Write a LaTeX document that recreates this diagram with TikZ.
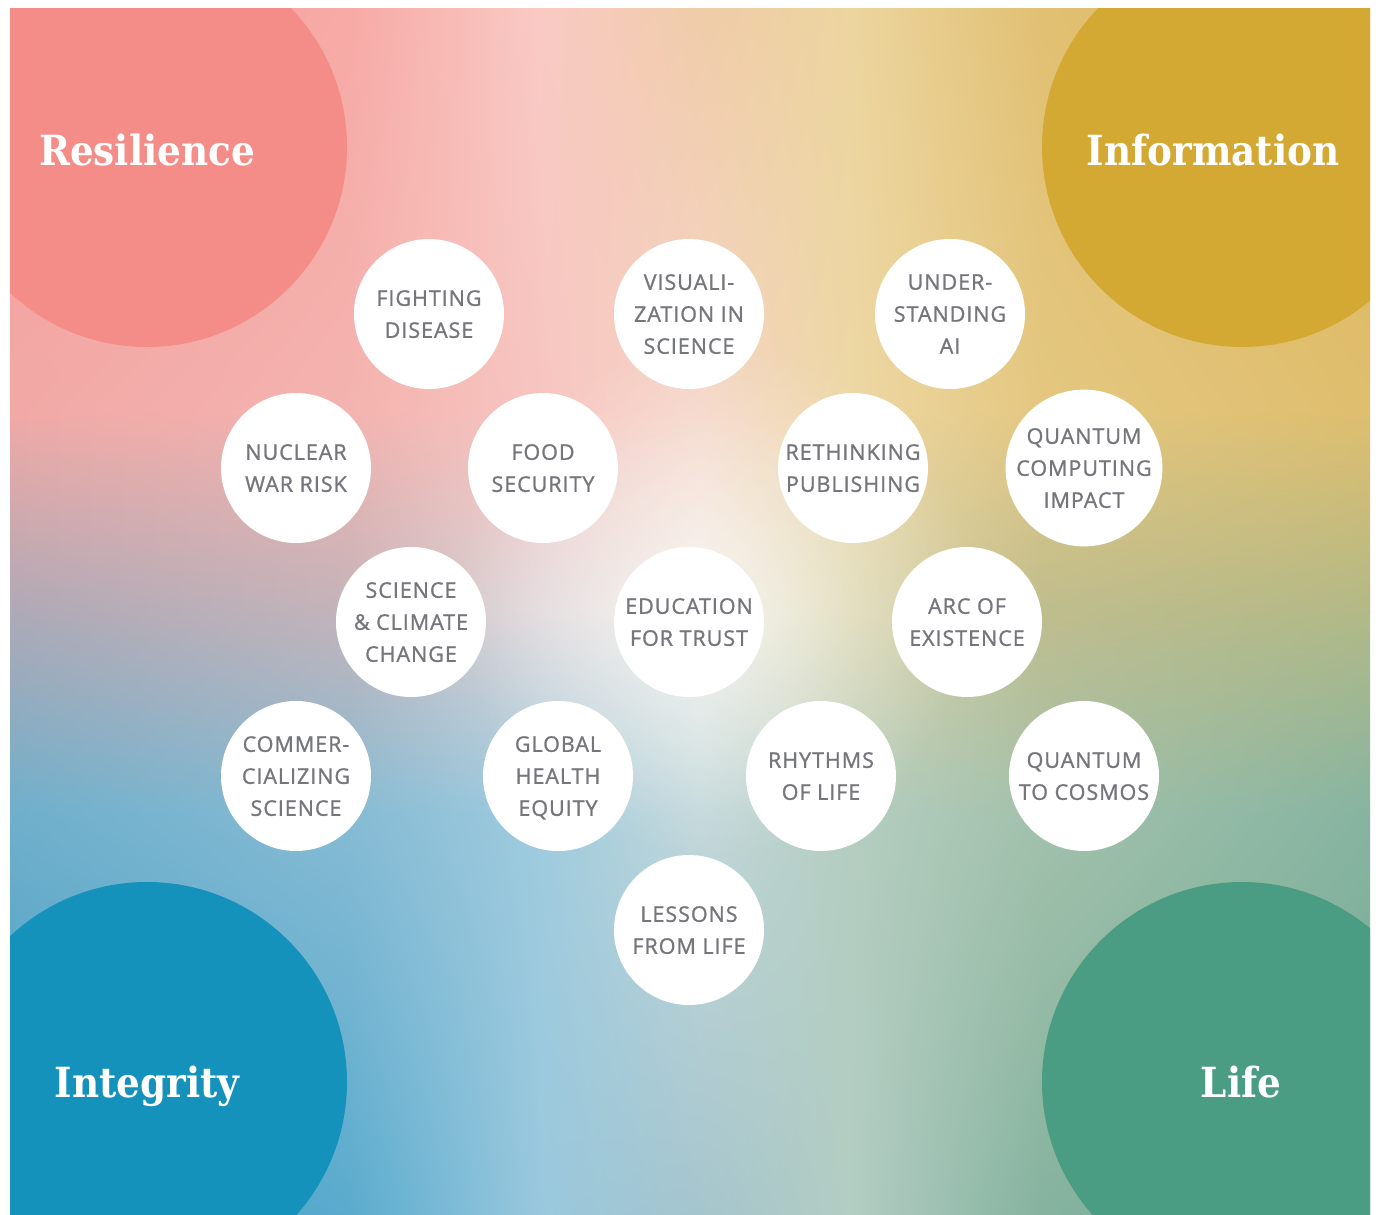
\documentclass[tikz,border=0pt]{standalone}
\usepackage{fontspec}
\usetikzlibrary{shadings,fadings}
\newfontfamily\bubblefont[LetterSpace=4.5,FakeBold=1.1]{Open Sans}
\newfontfamily\titlefont{DejaVu Serif Condensed}
% background grid colours: columns a..g, rows 0..4
\definecolor{a0}{HTML}{F49D98}\definecolor{b0}{HTML}{F7AAA6}\definecolor{c0}{HTML}{F9CAC5}\definecolor{d0}{HTML}{F0CCA8}\definecolor{e0}{HTML}{ECD59F}\definecolor{f0}{HTML}{E1C073}\definecolor{g0}{HTML}{DDB659}
\definecolor{a1}{HTML}{F2A9A6}\definecolor{b1}{HTML}{F4B3AF}\definecolor{c1}{HTML}{F7C5C0}\definecolor{d1}{HTML}{F5D5C8}\definecolor{e1}{HTML}{EDD7A4}\definecolor{f1}{HTML}{E4C780}\definecolor{g1}{HTML}{DFBE6E}
\definecolor{a2}{HTML}{AEA9B6}\definecolor{b2}{HTML}{C3B4BA}\definecolor{c2}{HTML}{E0D8DA}\definecolor{d2}{HTML}{F1EFE8}\definecolor{e2}{HTML}{DCD6B0}\definecolor{f2}{HTML}{BFBD8E}\definecolor{g2}{HTML}{B2B987}
\definecolor{a3}{HTML}{6FAFCB}\definecolor{b3}{HTML}{86BBD4}\definecolor{c3}{HTML}{9FCBDE}\definecolor{d3}{HTML}{C2D7DA}\definecolor{e3}{HTML}{B4CDC0}\definecolor{f3}{HTML}{A2C1AB}\definecolor{g3}{HTML}{86B4A1}
\definecolor{a4}{HTML}{3E9FC6}\definecolor{b4}{HTML}{5AABCE}\definecolor{c4}{HTML}{99C8DD}\definecolor{d4}{HTML}{A5C5CD}\definecolor{e4}{HTML}{B3CDC3}\definecolor{f4}{HTML}{85B39F}\definecolor{g4}{HTML}{72A993}
\definecolor{resil}{HTML}{F48C87}
\definecolor{infor}{HTML}{D4A933}
\definecolor{integ}{HTML}{1592BB}
\definecolor{lifec}{HTML}{4A9C82}
\definecolor{textgray}{HTML}{75767B}
\pgfdeclareradialshading{glowsh}{\pgfpointorigin}{color(0bp)=(transparent!55); color(12bp)=(transparent!75); color(25bp)=(transparent!100); color(50bp)=(transparent!100)}
\pgfdeclarefading{glowfade}{\pgfuseshading{glowsh}}
% #1,#2 = x range, #3,#4 = y range, #5,#6 = column letters, #7,#8 = row digits
\newcommand\bgcell[8]{\shade[upper left=#5#7, upper right=#6#7, lower left=#5#8, lower right=#6#8] (#1-0.6,#3-0.6) rectangle (#2+0.6,#4+0.6);}
\newcommand\bgrow[4]{%
  \bgcell{10}{350}{#1}{#2}{a}{b}{#3}{#4}
  \bgcell{350}{540}{#1}{#2}{b}{c}{#3}{#4}
  \bgcell{540}{700}{#1}{#2}{c}{d}{#3}{#4}
  \bgcell{700}{850}{#1}{#2}{d}{e}{#3}{#4}
  \bgcell{850}{1040}{#1}{#2}{e}{f}{#3}{#4}
  \bgcell{1040}{1370}{#1}{#2}{f}{g}{#3}{#4}}
\tikzset{
  bubble/.style={circle, fill=white, minimum size=150pt, inner sep=0pt, align=center,
    font=\bubblefont\fontsize{21.5}{32}\selectfont, text=textgray, text depth=0pt},
  title/.style={font=\titlefont\bfseries\fontsize{41.5}{50}\selectfont, text=white, anchor=base, inner sep=0pt}
}
\begin{document}
\begin{tikzpicture}[x=1pt,y=-1pt]
\useasboundingbox (0,0) rectangle (1376,1215);
\begin{scope}
\clip (10,9) rectangle (1370,1215);
\bgrow{9}{411}{0}{1}
\bgrow{411}{612}{1}{2}
\bgrow{612}{813}{2}{3}
\bgrow{813}{1215}{3}{4}
\fill[white, path fading=glowfade] (715,600) circle (260);
\fill[resil] (147,147) circle (200);
\fill[infor] (1242,147) circle (200);
\fill[integ] (147,1082) circle (200);
\fill[lifec] (1242,1082) circle (200);
\end{scope}
\node[title] (tres) at (147,165) {Resilience};
\node[title] (tinf) at (1213,165) {Information};
\node[title] (tint) at (147,1097) {Integrity};
\node[title] (tlif) at (1241,1097) {Life};
\node[bubble] (b1) at (429,314) {FIGHTING\\DISEASE};
\node[bubble] (b2) at (689,314) {VISUALI-\\ZATION IN\\SCIENCE};
\node[bubble] (b3) at (950,314) {UNDER-\\STANDING\\AI};
\node[bubble] (b4) at (296,468) {NUCLEAR\\WAR RISK};
\node[bubble] (b5) at (543,468) {FOOD\\SECURITY};
\node[bubble] (b6) at (853,468) {RETHINKING\\PUBLISHING};
\node[bubble] (b7) at (1084,468) {QUANTUM\\COMPUTING\\IMPACT};
\node[bubble] (b8) at (411,622) {SCIENCE\\\&~CLIMATE\\CHANGE};
\node[bubble] (b9) at (689,622) {EDUCATION\\FOR TRUST};
\node[bubble] (b10) at (967,622) {ARC OF\\EXISTENCE};
\node[bubble] (b11) at (296,776) {COMMER-\\CIALIZING\\SCIENCE};
\node[bubble] (b12) at (558,776) {GLOBAL\\HEALTH\\EQUITY};
\node[bubble] (b13) at (821,776) {RHYTHMS\\OF LIFE};
\node[bubble] (b14) at (1084,776) {QUANTUM\\TO COSMOS};
\node[bubble] (b15) at (689,930) {LESSONS\\FROM LIFE};
\end{tikzpicture}
\end{document}
